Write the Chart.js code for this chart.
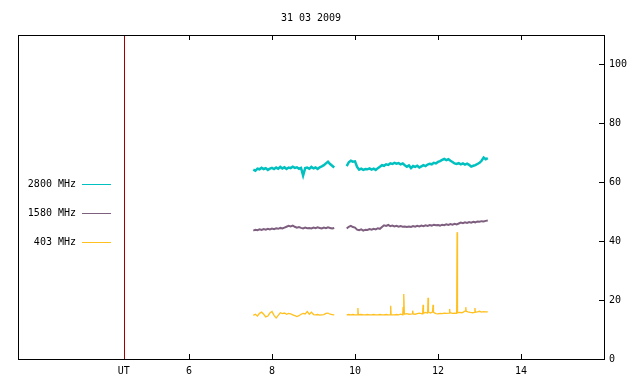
<!DOCTYPE html>
<html><head><meta charset="utf-8">
<script src="https://cdn.jsdelivr.net/npm/chart.js@4/dist/chart.umd.min.js"></script>
<style>html,body{margin:0;padding:0;background:#fff}#wrap{width:640px;height:384px}</style>
</head><body><div id="wrap"><canvas id="c" width="640" height="384"></canvas></div>
<script>
const title = "31 03 2009";
const seriesNames = ["2800 MHz", "1580 MHz", "403 MHz"];
const xTickValues = [4.43, 6, 8, 10, 12, 14];
const xTickLabels = ["UT", "6", "8", "10", "12", "14"];
const yTickValues = [0, 20, 40, 60, 80, 100];
const utLine = 4.43;

// shared times for 2800 and 1580 MHz (null marks the data gap)
const times = [7.55,7.60,7.65,7.70,7.75,7.80,7.85,7.90,7.95,8.00,8.05,8.10,8.15,8.20,8.25,8.30,8.35,8.40,8.45,8.50,8.55,8.60,8.65,8.70,8.75,8.80,8.85,8.90,8.95,9.00,9.05,9.10,9.15,9.20,9.25,9.30,9.35,9.40,9.45,9.50,
 9.65,
 9.80,9.85,9.90,9.95,10.00,10.05,10.10,10.15,10.20,10.25,10.30,10.35,10.40,10.45,10.50,10.55,10.60,10.65,10.70,10.75,10.80,10.85,10.90,10.95,11.00,11.05,11.10,11.15,11.20,11.25,11.30,11.35,11.40,11.45,11.50,11.55,11.60,11.65,11.70,11.75,11.80,11.85,11.90,11.95,12.00,12.05,12.10,12.15,12.20,12.25,12.30,12.35,12.40,12.45,12.50,12.55,12.60,12.65,12.70,12.75,12.80,12.85,12.90,12.95,13.00,13.05,13.10,13.15,13.20];

const mhz2800 = [64.3,63.9,64.6,64.4,64.9,64.5,64.8,64.2,64.6,64.9,64.5,65.0,64.6,65.2,64.7,65.1,64.5,65.0,64.8,65.3,64.9,65.1,64.6,64.9,62.3,64.8,65.0,64.6,65.2,64.7,65.0,64.5,65.1,65.4,65.8,66.4,67.0,66.2,65.6,65.0,
 null,
 65.5,66.8,67.3,67.0,67.1,65.2,64.3,64.6,64.2,64.5,64.4,64.7,64.3,64.6,64.2,64.8,65.3,65.8,65.6,66.1,65.9,66.4,66.2,66.6,66.3,66.5,66.1,66.4,65.8,65.3,65.7,64.8,65.5,65.2,65.6,65.0,65.4,65.8,65.5,66.0,66.3,66.1,66.6,66.4,66.9,67.2,67.6,67.9,67.5,67.8,67.3,66.9,66.4,66.2,66.5,66.1,66.4,66.0,66.3,65.9,65.3,65.6,65.8,66.2,66.6,67.3,68.4,67.8,68.2];

const mhz1580 = [43.6,43.9,43.7,44.0,43.8,44.1,43.9,44.2,44.0,44.3,44.1,44.4,44.2,44.5,44.3,44.6,44.9,45.2,45.0,45.3,44.9,44.6,44.8,44.5,44.3,44.6,44.4,44.5,44.3,44.6,44.4,44.7,44.5,44.3,44.6,44.4,44.7,44.5,44.3,44.5,
 null,
 44.3,44.9,45.2,44.8,44.6,43.9,43.7,44.0,43.6,43.9,43.8,44.1,43.9,44.2,44.0,44.4,44.2,44.8,45.4,45.2,45.5,45.1,45.3,45.0,45.2,44.9,45.1,44.9,45.0,44.8,45.0,44.8,45.1,44.9,45.2,45.0,45.3,45.1,45.4,45.2,45.5,45.3,45.6,45.4,45.5,45.3,45.6,45.4,45.7,45.5,45.8,45.6,45.9,45.7,46.0,46.3,46.1,46.4,46.2,46.5,46.3,46.6,46.4,46.7,46.6,46.8,46.7,46.9,47.0];

// 403 MHz has its own times (short spikes)
const times403 = [7.55,7.60,7.65,7.70,7.75,7.80,7.85,7.90,7.95,8.00,8.05,8.10,8.15,8.20,8.25,8.30,8.35,8.40,8.45,8.50,8.55,8.60,8.65,8.70,8.75,8.80,8.85,8.90,8.95,9.00,9.05,9.10,9.15,9.20,9.25,9.30,9.35,9.40,9.45,9.50,
 9.65,
 9.80,9.85,9.90,9.95,10.00,10.06,10.07,10.08,10.15,10.20,10.25,10.30,10.35,10.40,10.45,10.50,10.55,10.60,10.65,10.70,10.75,10.80,10.85,10.86,10.87,10.95,11.00,11.05,11.10,11.15,11.16,11.17,11.18,11.19,11.25,11.30,11.38,11.39,11.40,11.45,11.50,11.55,11.63,11.64,11.65,11.70,11.75,11.76,11.77,11.82,11.87,11.88,11.89,11.95,12.00,12.05,12.10,12.15,12.20,12.27,12.28,12.29,12.35,12.40,12.45,12.46,12.47,12.52,12.58,12.62,12.66,12.67,12.68,12.72,12.78,12.84,12.88,12.89,12.90,12.95,13.00,13.05,13.10,13.15,13.20];
const mhz403 = [14.8,15.2,14.6,15.5,15.9,15.2,14.3,14.6,15.6,16.1,14.8,13.9,14.8,15.7,15.4,15.6,15.2,15.5,15.3,15.0,14.7,14.4,14.7,15.2,15.5,15.3,16.1,15.2,15.9,15.1,15.0,15.1,14.9,15.0,15.1,15.5,15.6,15.2,15.1,15.0,
 null,
 15.0,15.1,15.0,15.1,15.0,15.0,17.3,15.0,15.1,15.0,15.0,15.1,15.0,15.0,15.1,15.0,15.0,15.1,15.0,15.0,15.1,15.0,15.0,18.1,15.0,15.0,15.1,15.0,15.2,15.0,17.6,15.1,22.1,15.2,15.4,15.2,15.3,16.4,15.3,15.2,15.4,15.6,15.3,18.4,15.5,15.8,15.6,20.8,15.9,15.6,16.0,18.4,15.8,15.4,15.3,15.5,15.4,15.6,15.5,15.6,17.0,15.7,15.5,15.6,15.5,43.0,15.7,15.8,15.7,16.0,16.3,17.6,16.2,16.0,15.8,15.7,15.8,17.3,15.9,16.0,16.2,15.9,16.1,16.0,16.0];

const colors = ["#00c0c0", "#7f5f7f", "#ffc020"];
const FONT = "10px 'DejaVu Sans Mono', monospace";

function pts(xs, ys) { return xs.map((x, i) => ({x: x, y: ys[i]})); }

const decor = {
  id: 'decor',
  afterDatasetsDraw(chart) {
    const ctx = chart.ctx, a = chart.chartArea;
    const xs = chart.scales.x, ys = chart.scales.y;
    ctx.save();
    // title
    ctx.font = FONT; ctx.fillStyle = '#000'; ctx.textAlign = 'center'; ctx.textBaseline = 'middle';
    ctx.fillText(title, 311, 18);
    // UT line
    const ux = Math.round(xs.getPixelForValue(utLine)) + 0.5;
    ctx.strokeStyle = '#a00000'; ctx.lineWidth = 1;
    ctx.beginPath(); ctx.moveTo(ux, a.top); ctx.lineTo(ux, a.bottom); ctx.stroke();
    // frame
    ctx.strokeStyle = '#000';
    ctx.strokeRect(Math.round(a.left) + 0.5, Math.round(a.top) + 0.5, Math.round(a.right - a.left), Math.round(a.bottom - a.top));
    // x ticks (inward, bottom and top)
    ctx.beginPath();
    xTickValues.forEach(v => {
      if (v === utLine) return;
      const px = Math.round(xs.getPixelForValue(v)) + 0.5;
      ctx.moveTo(px, a.bottom); ctx.lineTo(px, a.bottom - 5);
      ctx.moveTo(px, a.top); ctx.lineTo(px, a.top + 5);
    });
    // y ticks (inward, right)
    yTickValues.forEach(v => {
      if (v === 0) return;
      const py = Math.round(ys.getPixelForValue(v)) + 0.5;
      ctx.moveTo(a.right, py); ctx.lineTo(a.right - 5, py);
    });
    ctx.stroke();
    // legend
    ctx.textAlign = 'right';
    const ly = [184.5, 213.5, 242.5];
    seriesNames.forEach((n, i) => {
      ctx.fillText(n, 76, ly[i]);
      ctx.strokeStyle = colors[i];
      ctx.beginPath(); ctx.moveTo(82, ly[i]); ctx.lineTo(111, ly[i]); ctx.stroke();
    });
    ctx.restore();
  }
};

new Chart(document.getElementById('c'), {
  type: 'line',
  data: {
    datasets: [
      {label: seriesNames[0], data: pts(times, mhz2800), borderColor: colors[0], borderWidth: 2.5},
      {label: seriesNames[1], data: pts(times, mhz1580), borderColor: colors[1], borderWidth: 2},
      {label: seriesNames[2], data: pts(times403, mhz403), borderColor: colors[2], borderWidth: 1.3}
    ]
  },
  options: {
    responsive: false, animation: false, spanGaps: false,
    elements: {point: {radius: 0}, line: {borderWidth: 1, tension: 0}},
    layout: {padding: {left: 18, right: 0, top: 35, bottom: 0}},
    plugins: {legend: {display: false}, tooltip: {enabled: false}, title: {display: false}},
    scales: {
      x: {
        type: 'linear', min: 1.88, max: 16,
        grid: {display: false, drawTicks: false}, border: {display: false},
        afterBuildTicks: s => { s.ticks = xTickValues.map(v => ({value: v})); },
        afterFit: s => { s.height = 25; },
        ticks: {autoSkip: false, maxRotation: 0, padding: 6, color: '#000', font: {family: "'DejaVu Sans Mono', monospace", size: 10},
          callback: (v) => { const i = xTickValues.indexOf(v); return i >= 0 ? xTickLabels[i] : ''; }}
      },
      y: {
        position: 'right', min: 0, max: 110,
        grid: {display: false, drawTicks: false}, border: {display: false},
        afterBuildTicks: s => { s.ticks = yTickValues.map(v => ({value: v})); },
        afterFit: s => { s.width = 36; },
        ticks: {padding: 5, color: '#000', font: {family: "'DejaVu Sans Mono', monospace", size: 10}}
      }
    }
  },
  plugins: [decor]
});
</script>
</body></html>
